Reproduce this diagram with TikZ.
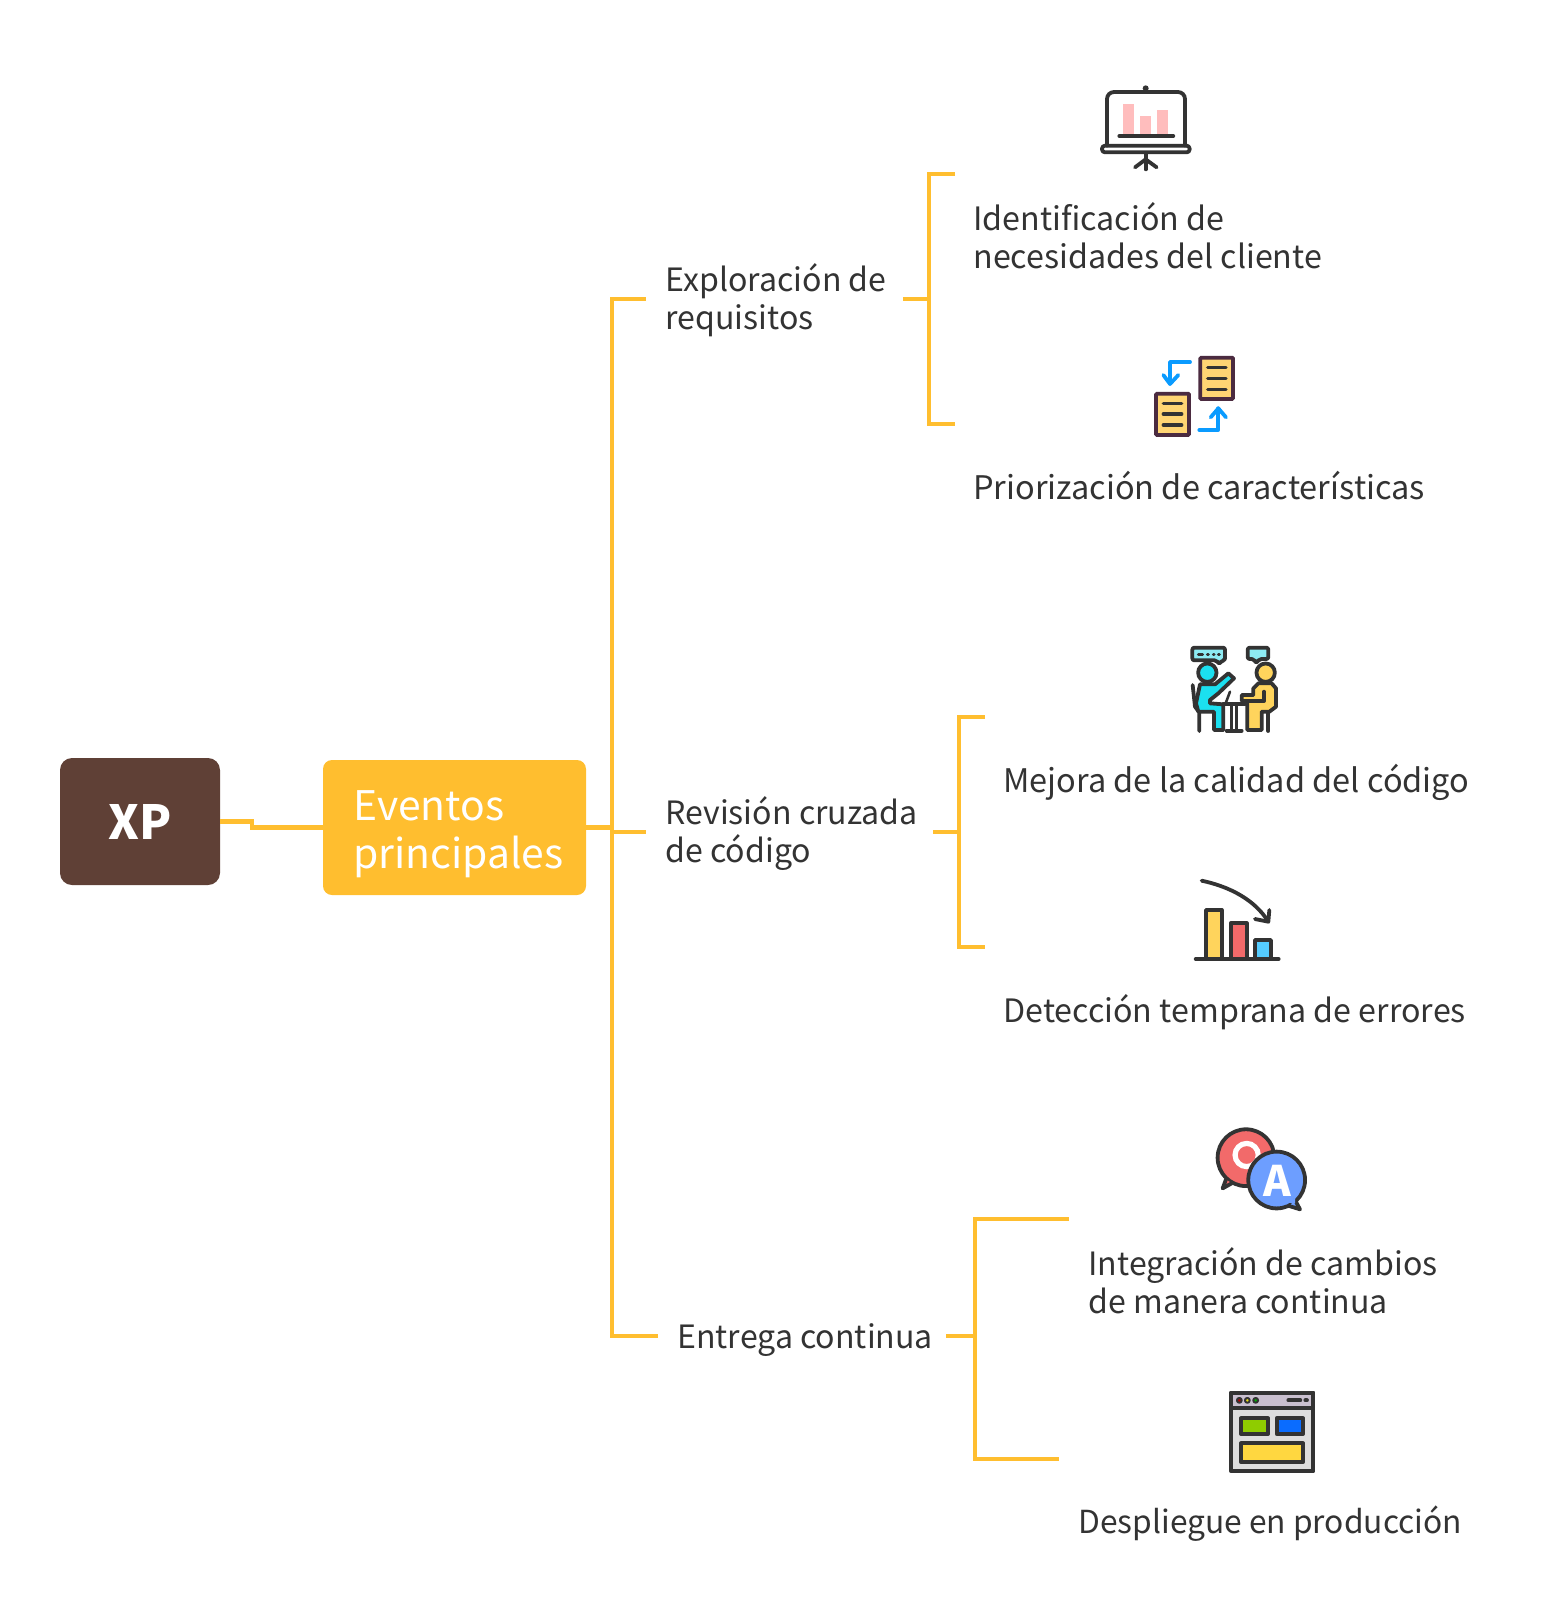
\documentclass[tikz,border=0pt]{standalone}
\usepackage{fontspec}
\setmainfont{Noto Sans CJK SC}
\usetikzlibrary{calc}
\definecolor{boxbrown}{RGB}{95,64,54}
\definecolor{treeyellow}{RGB}{255,190,47}
\definecolor{textdark}{RGB}{51,51,51}
\definecolor{icondark}{RGB}{51,51,51}
\definecolor{iconpink}{RGB}{255,189,189}
\definecolor{docyellow}{RGB}{255,213,115}
\definecolor{docborder}{RGB}{75,43,64}
\definecolor{arrowblue}{RGB}{10,155,255}
\definecolor{bubblecyan}{RGB}{141,235,243}
\definecolor{personcyan}{RGB}{27,224,240}
\definecolor{personyellow}{RGB}{255,212,92}
\definecolor{barred}{RGB}{242,106,106}
\definecolor{barblue}{RGB}{85,204,255}
\definecolor{chatblue}{RGB}{109,158,255}
\definecolor{winbar}{RGB}{201,191,207}
\definecolor{wingrey}{RGB}{221,221,221}
\definecolor{wingreen}{RGB}{143,204,0}
\definecolor{winblue}{RGB}{10,108,255}
\definecolor{winyellow}{RGB}{255,215,64}
\tikzstyle{treeline}=[draw=treeyellow,line width=2.4pt]
\tikzstyle{rootbox}=[fill=boxbrown,text=white,rounded corners=6pt,minimum width=80pt,minimum height=63.5pt,inner sep=0pt,font=\fontsize{23.5}{26}\selectfont\bfseries]
\tikzstyle{mainbox}=[fill=treeyellow,text=white,rounded corners=4.5pt,minimum width=131.5pt,minimum height=67.5pt,inner sep=0pt,align=left,font=\fontsize{20.4}{24}\selectfont]
\tikzstyle{branchtext}=[anchor=west,text=textdark,inner xsep=9.5pt,inner ysep=0pt,align=left,font=\fontsize{16.05}{19}\selectfont]
\tikzstyle{leaftext}=[anchor=west,text=textdark,inner sep=0pt,align=left,font=\fontsize{16.25}{19}\selectfont]
\tikzstyle{iconline}=[draw=icondark,line width=1.9pt,line cap=round,line join=round]
\tikzstyle{docline}=[draw=docborder,line width=1.9pt,fill=docyellow,rounded corners=0.5pt]
\tikzstyle{arrowline}=[draw=arrowblue,line width=1.9pt,line cap=round,line join=round]
\tikzstyle{iconcrop}=[x=0.16667pt,y=-0.16667pt]
\newcommand{\lowerline}[2]{\raisebox{-#1}[\height][\depth]{#2}}

\begin{document}
\begin{tikzpicture}[x=0.5pt,y=-0.5pt]
  \useasboundingbox (0,0) rectangle (1550,1614);
  % main boxes
  \node[rootbox] (xp) at (140,821.5) {XP};
  \node[mainbox] (eventos) at (454.5,827.5) {\hspace*{4pt}\lowerline{3.5pt}{Eventos}\\\hspace*{4pt}\lowerline{3.5pt}{principales}};
  % branch texts
  \node[branchtext] (explora) at (646,299) {\lowerline{0.8pt}{Exploración de}\\\lowerline{0.8pt}{requisitos}};
  \node[branchtext] (revision) at (646,832) {\lowerline{0.8pt}{Revisión cruzada}\\\lowerline{0.8pt}{de código}};
  \node[branchtext] (entrega) at (658,1336) {\lowerline{2pt}{Entrega continua}};
  % leaf texts
  \node[leaftext,font=\fontsize{16.1}{19}\selectfont] (identif) at (973,235.5) {Identificación de\\necesidades del cliente};
  \node[leaftext] (prioriz) at (973,486) {Priorización de características};
  \node[leaftext] (mejora) at (1003,782) {Mejora de la calidad del código};
  \node[leaftext,font=\fontsize{16.1}{19}\selectfont] (detecc) at (1003,1012) {Detección temprana de errores};
  \node[leaftext,font=\fontsize{16.05}{19}\selectfont] (integr) at (1088,1281) {Integración de cambios\\de manera continua};
  \node[leaftext,font=\fontsize{15.87}{19}\selectfont] (desplie) at (1078,1524) {Despliegue en producción};
  % free ends of the brackets
  \coordinate (stepa) at (252,824);
  \coordinate (bus) at (612,832);
  \coordinate (explobar) at (929,299);
  \coordinate (revibar) at (959,832);
  \coordinate (entrebar) at (975,1336);
  \coordinate (identin) at (955,174);
  \coordinate (priorin) at (955,424);
  \coordinate (mejorin) at (985,717);
  \coordinate (detecin) at (985,947);
  \coordinate (integin) at (1069,1219);
  \coordinate (desplin) at (1059,1459);
  % connectors
  \draw[treeline] (xp.east) -- (stepa |- xp.east) -- (stepa |- eventos.west) -- (eventos.west);
  \draw[treeline] (eventos.east) -- (bus |- eventos.east) -- (bus) -- (revision.west);
  \draw[treeline] (explora.west) -- (bus |- explora.west) -- (bus |- entrega.west) -- (entrega.west);
  \draw[treeline,shorten <=-1.5pt] (explora.east) -- (explobar);
  \draw[treeline] (identin) -- (explobar |- identin) -- (explobar |- priorin) -- (priorin);
  \draw[treeline,shorten <=-2pt] (revision.east) -- (revibar);
  \draw[treeline] (mejorin) -- (revibar |- mejorin) -- (revibar |- detecin) -- (detecin);
  \draw[treeline,shorten <=-3pt] (entrega.east) -- (entrebar);
  \draw[treeline] (integin) -- (entrebar |- integin) -- (entrebar |- desplin) -- (desplin);
  % presentation board
  \begin{scope}[shift={(1080,70)},iconcrop]
    \fill[iconpink] (130,103) rectangle (163,192);
    \fill[iconpink] (180,137) rectangle (213,192);
    \fill[iconpink] (232,120) rectangle (264,192);
    \draw[iconline] (118,198) -- (280,198);
    \fill[icondark] (197,55) circle (1.5pt);
    \draw[iconline,rounded corners=3.5pt] (81,227) -- (81,66) -- (315,66) -- (315,227);
    \draw[iconline,rounded corners=1.5pt] (66,227) rectangle (329,247);
    \draw[iconline] (197,250) -- (197,298);
    \draw[iconline] (165,292) -- (197,268) -- (230,292);
  \end{scope}
  % documents and arrows
  \begin{scope}[shift={(1140,340)},iconcrop]
    \draw[docline] (181,53) rectangle (279,177);
    \draw[docline] (48,161) rectangle (147,285);
    \foreach \y in {83,116,149} \draw[iconline,line width=1.7pt] (203,\y) -- (258,\y);
    \foreach \y in {190,222,255} \draw[iconline,line width=1.7pt] (70,\y) -- (125,\y);
    \draw[arrowline] (150,66) -- (90,66) -- (90,130);
    \draw[arrowline] (70,105) -- (90,132) -- (115,105);
    \draw[arrowline] (178,270) -- (235,270) -- (235,205);
    \draw[arrowline] (212,232) -- (235,205) -- (258,232);
  \end{scope}
  % two people talking
  \begin{scope}[shift={(1180,635)},iconcrop]
    \draw[iconline,fill=bubblecyan,rounded corners=1pt] (110,76) -- (37,76) -- (37,38) -- (135,38) -- (135,76) -- (125,76) -- (118,88) -- cycle;
    \draw[iconline,line width=1.5pt] (55,57) -- (68,57) (82,57) -- (85,57) (100,57) -- (102,57) (115,57) -- (118,57);
    \draw[iconline,fill=bubblecyan,rounded corners=1pt] (222,72) -- (203,72) -- (203,38) -- (265,38) -- (265,72) -- (238,72) -- (228,85) -- cycle;
    \draw[iconline] (38,150) -- (45,215) -- (58,232) -- (58,288);
    \draw[iconline,fill=personcyan] (60,148) -- (105,148) -- (145,115) -- (162,130) -- (115,175) -- (90,195) -- (90,205) -- (130,208) -- (130,285) -- (102,285) -- (102,230) -- (55,230) -- (48,205) -- cycle;
    \draw[iconline,fill=personcyan] (82,113) circle (4.6pt);
    \draw[iconline] (265,230) -- (265,288);
    \draw[iconline,fill=personyellow] (220,180) -- (220,160) -- (235,145) -- (275,145) -- (288,160) -- (288,215) -- (268,230) -- (245,230) -- (245,285) -- (202,285) -- (202,198) -- (185,198) -- (185,180) -- cycle;
    \draw[iconline] (252,170) -- (252,198) -- (202,198);
    \draw[iconline,fill=personyellow] (257,113) circle (4.6pt);
    \draw[iconline] (130,207) -- (195,207);
    \draw[iconline,line width=1.2pt] (155,207) -- (155,285) (170,207) -- (170,285);
    \draw[iconline] (140,287) -- (185,287);
    \draw[iconline,line width=1.3pt] (150,170) -- (138,202);
  \end{scope}
  % falling bars
  \begin{scope}[shift={(1180,870)},iconcrop]
    \draw[iconline,fill=personyellow] (78,265) -- (78,120) -- (125,120) -- (125,265);
    \draw[iconline,fill=barred] (152,265) -- (152,160) -- (200,160) -- (200,265);
    \draw[iconline,fill=barblue] (225,265) -- (225,210) -- (273,210) -- (273,265);
    \draw[iconline] (47,267) -- (296,267);
    \draw[iconline] (65,32) .. controls (150,50) and (225,90) .. (265,155);
    \draw[iconline] (225,147) -- (265,155) -- (268,120);
  \end{scope}
  % question and answer
  \begin{scope}[shift={(1200,1120)},iconcrop]
    \draw[iconline,fill=barred] (138,113) circle (14.2pt);
    \draw[iconline,fill=barred] (78,178) -- (68,205) -- (95,190);
    \draw[white,line width=2.6pt] (140,105) circle (5.8pt);
    \draw[iconline,fill=chatblue] (230,180) circle (14.2pt);
    \draw[iconline,fill=chatblue] (285,240) -- (300,268) -- (268,258);
    \fill[chatblue] (285,232) -- (285,250) -- (265,248) -- cycle;
    \node[text=white,inner sep=0pt,font=\fontsize{21}{21}\selectfont\bfseries] (answer) at (232,183) {A};
  \end{scope}
  % browser window
  \begin{scope}[shift={(1220,1385)},iconcrop]
    \draw[iconline,fill=wingrey] (33,23) rectangle (280,259);
    \draw[iconline,fill=winbar] (33,23) rectangle (280,68);
    \draw[iconline,line width=1pt,fill=red!70!black] (58,46) circle (1.2pt);
    \draw[iconline,line width=1pt,fill=yellow!90!black] (82,46) circle (1.2pt);
    \draw[iconline,line width=1pt,fill=green!70!black] (107,46) circle (1.2pt);
    \draw[iconline] (205,46) -- (241,46);
    \draw[iconline] (256,46) -- (261,46);
    \draw[iconline,fill=wingreen] (63,100) rectangle (144,147);
    \draw[iconline,fill=winblue] (170,100) rectangle (249,147);
    \draw[iconline,fill=winyellow] (63,175) rectangle (249,232);
  \end{scope}
\end{tikzpicture}
\end{document}
